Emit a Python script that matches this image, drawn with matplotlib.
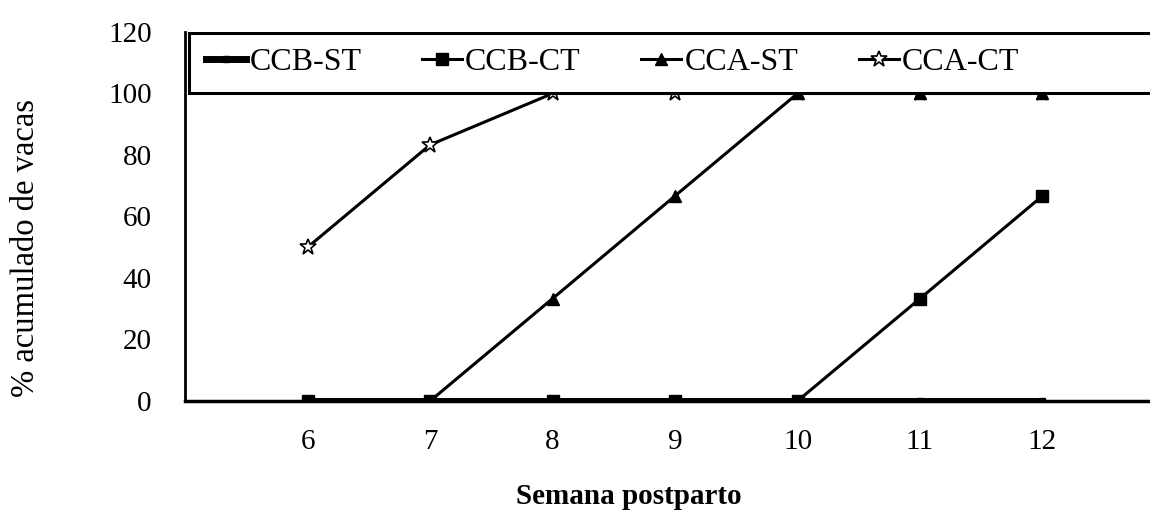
import numpy as np
import matplotlib.pyplot as plt
from matplotlib.patches import Rectangle

plt.rcParams['font.family'] = ['Liberation Serif', 'DejaVu Serif']

# weeks postpartum and cumulative % of cows per group
semanas = [6, 7, 8, 9, 10, 11, 12]
ccb_st = [0, 0, 0, 0, 0, 0, 0]
ccb_ct = [0, 0, 0, 0, 0, 33.3, 66.7]
cca_st = [0, 0, 33.3, 66.7, 100, 100, 100]
cca_ct = [50, 83.3, 100, 100, 100, 100, 100]

y_ticks = [0, 20, 40, 60, 80, 100, 120]

FONTSIZE = 21

fig = plt.figure(figsize=(11.5, 5.15), dpi=100)
ax = fig.add_axes([0.161, 0.2214, 0.852, 0.7165])

ax.plot(semanas, ccb_st, color='black', lw=5, marker='s', ms=4, label='CCB-ST', zorder=5)
ax.plot(semanas, ccb_ct, color='black', lw=2.2, marker='s', ms=9, label='CCB-CT', zorder=4)
ax.plot(semanas, cca_st, color='black', lw=2.2, marker='^', ms=9, label='CCA-ST', zorder=3)
ax.plot(semanas, cca_ct, color='black', lw=2.2, marker='*', ms=12, mfc='white',
        mec='black', mew=1.2, label='CCA-CT', zorder=2)

ax.set_xlim(5, 13)
ax.set_ylim(0, 120)
ax.set_xticks(semanas)
ax.set_yticks(y_ticks)
ax.tick_params(axis='both', length=0, labelsize=FONTSIZE)
ax.tick_params(axis='x', pad=20)
ax.tick_params(axis='y', pad=24)

for side in ['top', 'right']:
    ax.spines[side].set_visible(False)
ax.spines['left'].set_linewidth(2)
ax.spines['bottom'].set_linewidth(2.5)

# framed legend strip across the top of the plot
ax.add_patch(Rectangle((5.03, 100.2), 9, 19.6, facecolor='white', edgecolor='black',
                       lw=2.2, zorder=6))
leg = ax.legend(loc='center left', bbox_to_anchor=(0.015, 0.917), ncol=4, frameon=False,
                fontsize=23, handlelength=1.25, handletextpad=0.1,
                columnspacing=1.9, borderaxespad=0, borderpad=0.2)
leg.set_zorder(7)

fig.text(0.0226, 0.518, '% acumulado de vacas', rotation=90, ha='center', va='center',
         fontsize=23.5)
fig.text(0.547, 0.035, 'Semana postparto', ha='center', va='center',
         fontsize=FONTSIZE, fontweight='bold')

fig.savefig('out.png', dpi=100)
